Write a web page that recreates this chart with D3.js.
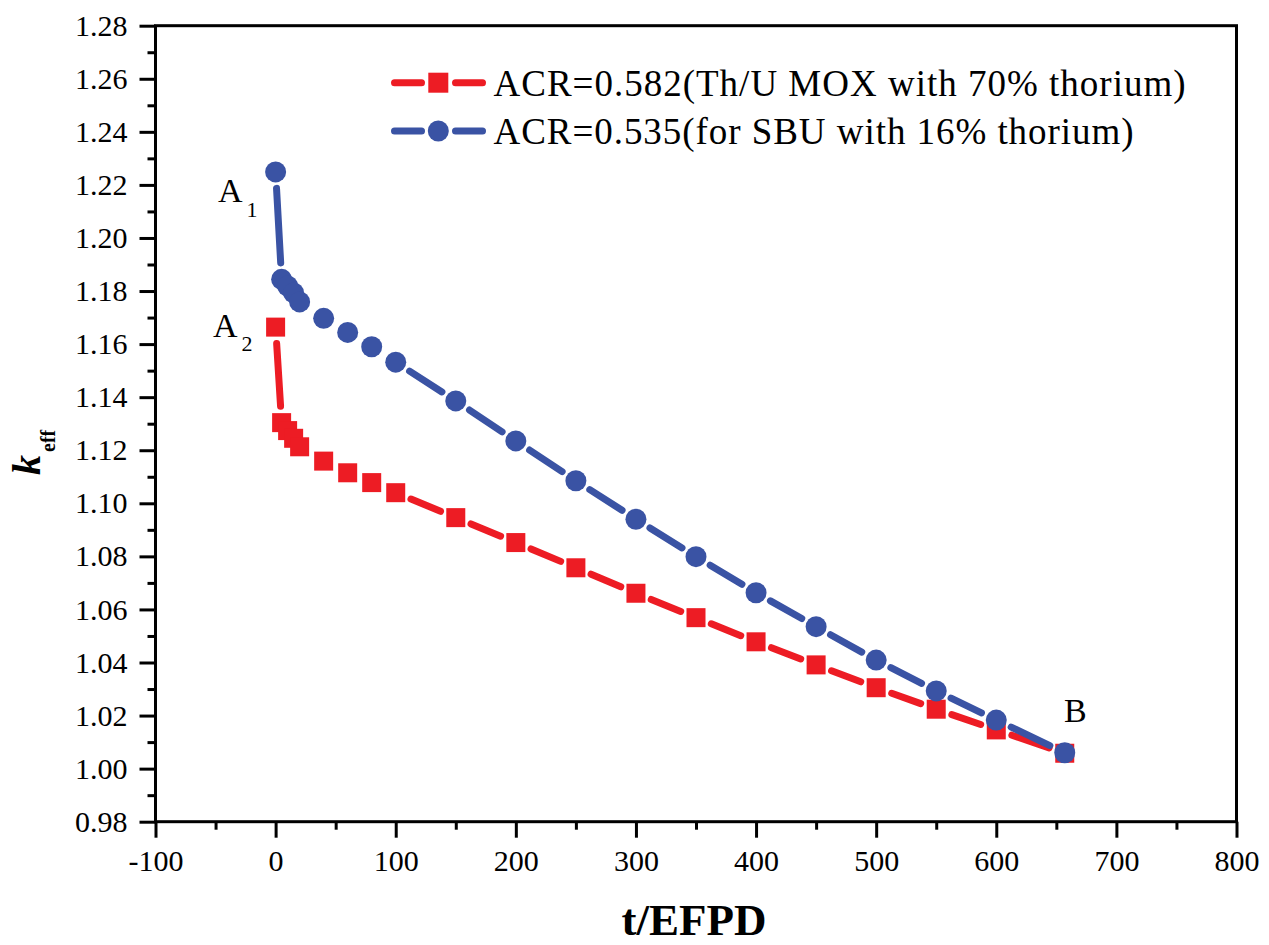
<!DOCTYPE html>
<html>
<head>
<meta charset="utf-8">
<script src="https://cdn.jsdelivr.net/npm/d3@7"></script>
<style>
  html, body { margin: 0; padding: 0; background: #fff; }
  svg { display: block; }
  text { font-family: "Liberation Serif", "Times New Roman", serif; fill: #000; }
</style>
</head>
<body>
<svg id="chart" width="1269" height="945"></svg>
<script>
// ---- data ----
const tDays = [0, 5, 10, 15, 20, 40, 60, 80, 100, 150, 200, 250, 300, 350, 400, 450, 500, 550, 600, 657];
const keffThU = [1.1664, 1.1304, 1.1274, 1.1245, 1.1213, 1.1159, 1.1115, 1.1078, 1.1040, 1.0946, 1.0852, 1.0757, 1.0661, 1.0569, 1.0478, 1.0391, 1.0305, 1.0224, 1.0146, 1.0058];
const keffSBU = [1.2249, 1.1844, 1.1819, 1.1793, 1.1759, 1.1697, 1.1644, 1.1590, 1.1532, 1.1386, 1.1235, 1.1085, 1.0940, 1.0799, 1.0663, 1.0535, 1.0409, 1.0293, 1.0183, 1.0060];
const seriesNames = ["ACR=0.582(Th/U MOX with 70% thorium)", "ACR=0.535(for SBU with 16% thorium)"];
const xTicks = [-100, 0, 100, 200, 300, 400, 500, 600, 700, 800];
const yTicks = [0.98, 1.00, 1.02, 1.04, 1.06, 1.08, 1.10, 1.12, 1.14, 1.16, 1.18, 1.20, 1.22, 1.24, 1.26, 1.28];

const RED = "#ED1C24", BLUE = "#3A53A4";

const svg = d3.select("#chart");
const L = 155.5, R = 1236.5, T = 25.7, B = 821.7;
const x = d3.scaleLinear().domain([-100, 800]).range([L, R]);
const y = d3.scaleLinear().domain([0.98, 1.28]).range([B, T]);

// minor ticks
const xMinor = d3.range(-50, 800, 100);
const yMinor = d3.range(0, 15).map(i => +(0.99 + i * 0.02).toFixed(2));

const gx = svg.append("g").attr("transform", `translate(0,${B})`)
  .call(d3.axisBottom(x).tickValues(xTicks).tickFormat(d => String(d)).tickSize(16).tickPadding(12));
const gxm = svg.append("g").attr("transform", `translate(0,${B})`)
  .call(d3.axisBottom(x).tickValues(xMinor).tickFormat("").tickSize(8));
const gy = svg.append("g").attr("transform", `translate(${L},0)`)
  .call(d3.axisLeft(y).tickValues(yTicks).tickFormat(d3.format(".2f")).tickSize(16).tickPadding(12));
const gym = svg.append("g").attr("transform", `translate(${L},0)`)
  .call(d3.axisLeft(y).tickValues(yMinor).tickFormat("").tickSize(8));
[gx, gxm, gy, gym].forEach(g => {
  g.select(".domain").remove();
  g.selectAll(".tick line").attr("stroke", "#000").attr("stroke-width", 3);
  g.selectAll(".tick text").attr("font-size", 30).attr("font-family", "'Liberation Serif', 'Times New Roman', serif").attr("fill", "#000");
});

// frame
svg.append("rect").attr("x", L).attr("y", T).attr("width", R - L).attr("height", B - T)
  .attr("fill", "none").attr("stroke", "#000").attr("stroke-width", 3);

// series drawing: line segments with gaps around symbols
function drawSeries(vals, color, symbol) {
  const g = svg.append("g");
  const pts = tDays.map((t, i) => [x(t), y(vals[i])]);
  const gap = 16.5;
  for (let i = 0; i < pts.length - 1; i++) {
    const [x1, y1] = pts[i], [x2, y2] = pts[i + 1];
    const dx = x2 - x1, dy = y2 - y1, len = Math.hypot(dx, dy);
    if (len <= 2 * gap) continue;
    const ux = dx / len, uy = dy / len;
    g.append("line")
      .attr("x1", x1 + ux * gap).attr("y1", y1 + uy * gap)
      .attr("x2", x2 - ux * gap).attr("y2", y2 - uy * gap)
      .attr("stroke", color).attr("stroke-width", 7).attr("stroke-linecap", "round");
  }
  if (symbol === "square") {
    g.selectAll("rect.m").data(pts).enter().append("rect")
      .attr("x", d => d[0] - 9.5).attr("y", d => d[1] - 9.5)
      .attr("width", 19).attr("height", 19).attr("fill", color);
  } else {
    g.selectAll("circle.m").data(pts).enter().append("circle")
      .attr("cx", d => d[0]).attr("cy", d => d[1]).attr("r", 10.5).attr("fill", color);
  }
}
drawSeries(keffThU, RED, "square");
drawSeries(keffSBU, BLUE, "circle");

// legend
const legendRows = [
  { name: seriesNames[0], color: RED, symbol: "square", y: 82.7, width: 692 },
  { name: seriesNames[1], color: BLUE, symbol: "circle", y: 131, width: 640 }
];
legendRows.forEach(r => {
  const g = svg.append("g");
  g.append("line").attr("x1", 394.5).attr("x2", 421.5).attr("y1", r.y).attr("y2", r.y)
    .attr("stroke", r.color).attr("stroke-width", 7).attr("stroke-linecap", "round");
  g.append("line").attr("x1", 455.5).attr("x2", 482.5).attr("y1", r.y).attr("y2", r.y)
    .attr("stroke", r.color).attr("stroke-width", 7).attr("stroke-linecap", "round");
  if (r.symbol === "square") {
    g.append("rect").attr("x", 438.3 - 10).attr("y", r.y - 10).attr("width", 20).attr("height", 20).attr("fill", r.color);
  } else {
    g.append("circle").attr("cx", 438.3).attr("cy", r.y).attr("r", 10.5).attr("fill", r.color);
  }
  g.append("text").attr("x", 493.5).attr("y", r.y + 13.3).attr("font-size", 37)
    .attr("textLength", r.width).attr("lengthAdjust", "spacing").text(r.name);
});

// annotations
function label(main, sub, xp, yp, size, subSize, subDy) {
  const t = svg.append("text").attr("x", xp).attr("y", yp).attr("font-size", size);
  t.append("tspan").text(main);
  if (sub) t.append("tspan").attr("font-size", subSize).attr("dx", 4).attr("dy", subDy).text(sub);
}
label("A", "1", 218, 202.3, 34, 22, 14.5);
label("A", "2", 213, 336.7, 34, 22, 14.5);
label("B", null, 1064, 721.7, 34);

// axis titles
svg.append("text").attr("x", (L + R) / 2 - 2).attr("y", 935).attr("text-anchor", "middle")
  .attr("font-size", 45).attr("font-weight", "bold").text("t/EFPD");

const yl = svg.append("text").attr("transform", "translate(40,475) rotate(-90)");
yl.append("tspan").attr("font-size", 40).attr("font-weight", "bold").attr("font-style", "italic").text("k");
yl.append("tspan").attr("font-size", 20).attr("font-weight", "bold").attr("dx", 3).attr("dy", 15).text("eff");
</script>
</body>
</html>
